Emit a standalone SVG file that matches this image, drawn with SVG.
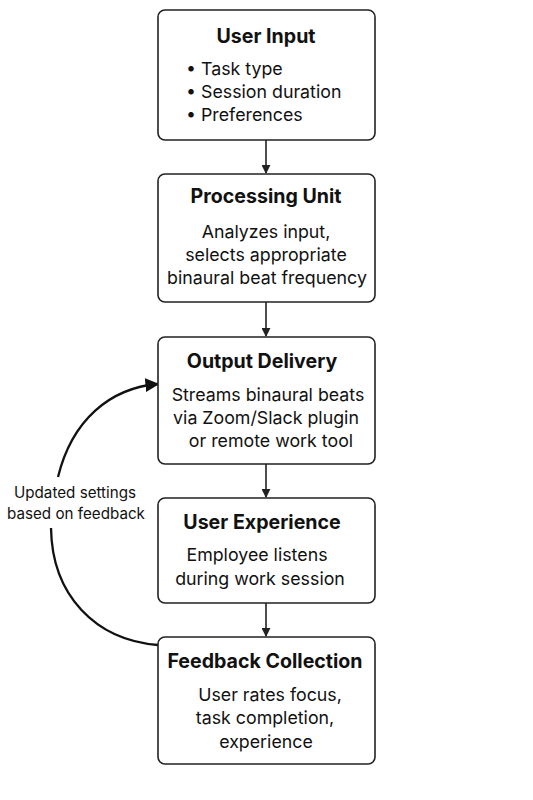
<svg xmlns="http://www.w3.org/2000/svg" width="533" height="800" viewBox="0 0 533 800">
<defs>
<style>
.box{fill:#fff;stroke:#222;stroke-width:1.6}
.t{font-family:Inter,"Liberation Sans",sans-serif;font-weight:700;font-size:19.6px;fill:#111;text-anchor:middle}
.b{font-family:Inter,"Liberation Sans",sans-serif;font-size:17.8px;fill:#111;text-anchor:middle}
.bl{font-family:Inter,"Liberation Sans",sans-serif;font-size:17.8px;fill:#111}
.l{font-family:Inter,"Liberation Sans",sans-serif;font-size:15.2px;fill:#111;text-anchor:middle}
.c{fill:none;stroke:#222;stroke-width:1.6}
.fb{fill:none;stroke:#111;stroke-width:2.3}
</style>
<marker id="ah" viewBox="0 0 10 10" refX="9" refY="5" markerWidth="14" markerHeight="14" orient="auto" markerUnits="userSpaceOnUse">
<path d="M0,0 L10,5 L0,10 z" fill="#111"/>
</marker>
<marker id="ah2" viewBox="0 0 10 10" refX="9" refY="5" markerWidth="9" markerHeight="9" orient="auto" markerUnits="userSpaceOnUse">
<path d="M0,0 L10,5 L0,10 z" fill="#222"/>
</marker>
</defs>
<rect width="533" height="800" fill="#fff"/>
<g id="connectors">
<line class="c" x1="266" y1="140" x2="266" y2="173" marker-end="url(#ah2)"/>
<line class="c" x1="266" y1="302" x2="266" y2="336" marker-end="url(#ah2)"/>
<line class="c" x1="266" y1="464" x2="266" y2="497" marker-end="url(#ah2)"/>
<line class="c" x1="266" y1="603" x2="266" y2="636" marker-end="url(#ah2)"/>
<path class="fb" d="M158,645 C95,640 52,595 51,528"/>
<path class="fb" d="M58,477 C72,420 110,388 158,384" marker-end="url(#ah)"/>
<text class="l" x="75" y="498">Updated settings</text>
<text class="l" x="76" y="519">based on feedback</text>
</g>
<g id="user-input">
<rect class="box" x="158" y="10" width="217" height="130" rx="7"/>
<text class="t" x="266" y="43">User Input</text>
<text class="bl" x="186" y="75">• Task type</text>
<text class="bl" x="186" y="98">• Session duration</text>
<text class="bl" x="186" y="121">• Preferences</text>
</g>
<g id="processing-unit">
<rect class="box" x="158" y="174" width="217" height="128" rx="7"/>
<text class="t" x="266" y="203">Processing Unit</text>
<text class="b" x="266" y="238">Analyzes input,</text>
<text class="b" x="266" y="261">selects appropriate</text>
<text class="b" x="267" y="284">binaural beat frequency</text>
</g>
<g id="output-delivery">
<rect class="box" x="158" y="337" width="217" height="127" rx="7"/>
<text class="t" x="262" y="368">Output Delivery</text>
<text class="b" x="268" y="401">Streams binaural beats</text>
<text class="b" x="266" y="424">via Zoom/Slack plugin</text>
<text class="b" x="271" y="447">or remote work tool</text>
</g>
<g id="user-experience">
<rect class="box" x="158" y="498" width="217" height="105" rx="7"/>
<text class="t" x="262" y="529">User Experience</text>
<text class="b" x="257" y="561">Employee listens</text>
<text class="b" x="260" y="585">during work session</text>
</g>
<g id="feedback-collection">
<rect class="box" x="158" y="637" width="217" height="127" rx="7"/>
<text class="t" x="265" y="668">Feedback Collection</text>
<text class="b" x="270" y="701">User rates focus,</text>
<text class="b" x="265" y="724">task completion,</text>
<text class="b" x="266" y="748">experience</text>
</g>
</svg>
